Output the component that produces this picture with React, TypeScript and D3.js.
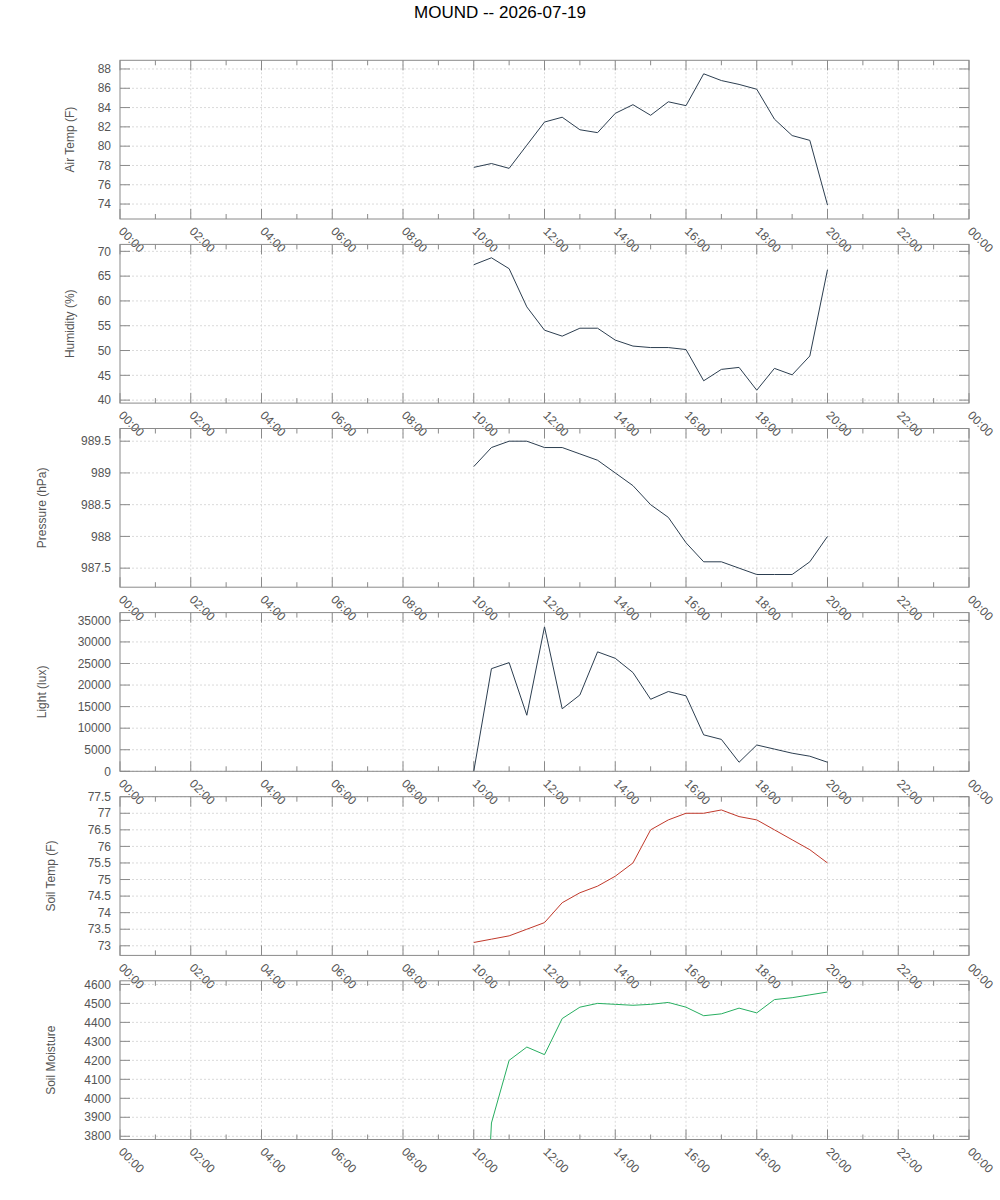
import React from "react";
import * as d3 from "d3";

const width = 1000;
const height = 1200;

const title = "MOUND -- 2026-07-19";

// sample times, every half hour
const times = [
  "10:00", "10:30", "11:00", "11:30", "12:00", "12:30", "13:00", "13:30",
  "14:00", "14:30", "15:00", "15:30", "16:00", "16:30", "17:00", "17:30",
  "18:00", "18:30", "19:00", "19:30", "20:00",
];

const airTemp = [77.8, 78.2, 77.7, 80.1, 82.5, 83.0, 81.7, 81.4, 83.4, 84.3, 83.2, 84.6, 84.2, 87.5, 86.8, 86.4, 85.9, 82.8, 81.1, 80.6, 73.9];
const humidity = [67.3, 68.7, 66.5, 58.8, 54.1, 52.9, 54.5, 54.5, 52.1, 50.9, 50.6, 50.6, 50.2, 43.9, 46.2, 46.6, 42.0, 46.4, 45.1, 48.9, 66.3];
const pressure = [989.1, 989.4, 989.5, 989.5, 989.4, 989.4, 989.3, 989.2, 989.0, 988.8, 988.5, 988.3, 987.9, 987.6, 987.6, 987.5, 987.4, 987.4, 987.4, 987.6, 988.0];
const light = [0, 23800, 25200, 13000, 33500, 14500, 17700, 27700, 26200, 22900, 16700, 18500, 17500, 8450, 7400, 2100, 6100, 5150, 4200, 3500, 2100];
const soilTemp = [73.1, 73.2, 73.3, 73.5, 73.7, 74.3, 74.6, 74.8, 75.1, 75.5, 76.5, 76.8, 77.0, 77.0, 77.1, 76.9, 76.8, 76.5, 76.2, 75.9, 75.5];
const soilMoisture = [2000, 3870, 4200, 4270, 4230, 4420, 4480, 4500, 4495, 4490, 4495, 4505, 4480, 4435, 4445, 4475, 4450, 4520, 4530, 4545, 4560];

const airTicks = [74, 76, 78, 80, 82, 84, 86, 88];
const humidityTicks = [40, 45, 50, 55, 60, 65, 70];
const pressureTicks = [987.5, 988, 988.5, 989, 989.5];
const lightTicks = [0, 5000, 10000, 15000, 20000, 25000, 30000, 35000];
const soilTempTicks = [73, 73.5, 74, 74.5, 75, 75.5, 76, 76.5, 77, 77.5];
const moistureTicks = [3800, 3900, 4000, 4100, 4200, 4300, 4400, 4500, 4600];

const hourLabels = ["00:00", "02:00", "04:00", "06:00", "08:00", "10:00", "12:00", "14:00", "16:00", "18:00", "20:00", "22:00", "00:00"];

const panels = [
  { label: "Air Temp (F)", values: airTemp, ticks: airTicks, domain: [72.45, 88.9], color: "#2c3e50", labelX: 70 },
  { label: "Humidity (%)", values: humidity, ticks: humidityTicks, domain: [39.4, 71.4], color: "#2c3e50", labelX: 70 },
  { label: "Pressure (hPa)", values: pressure, ticks: pressureTicks, domain: [987.2, 989.7], color: "#2c3e50", labelX: 42 },
  { label: "Light (lux)", values: light, ticks: lightTicks, domain: [0, 36800], color: "#2c3e50", labelX: 42 },
  { label: "Soil Temp (F)", values: soilTemp, ticks: soilTempTicks, domain: [72.71, 77.5], color: "#c0392b", labelX: 51 },
  { label: "Soil Moisture", values: soilMoisture, ticks: moistureTicks, domain: [3783, 4619], color: "#27ae60", labelX: 51 },
];

const left = 120;
const right = 969;
const firstTop = 60.3;
const step = 184.1;
const panelH = 158.7;

const font = "'Liberation Sans', Arial, sans-serif";
const borderColor = "#8a8a8a";
const textColor = "#555";
const gridColor = "#dadada";

const toHours = (t: string) => {
  const [h, m] = t.split(":").map(Number);
  return h + m / 60;
};

const x = d3.scaleLinear().domain([0, 24]).range([left, right]);
const majorHours = d3.range(0, 25, 2);
const minorHours = d3.range(1, 24, 2);

const fmt = (v: number) => String(v);

export default function App() {
  return (
    <svg
      width={width}
      height={height}
      style={{ position: "absolute", left: 0, top: 0, display: "block", background: "#fff" }}
      fontFamily={font}
    >
      <text x={width / 2} y={18} textAnchor="middle" fontSize={17} fill="#000">
        {title}
      </text>
      <defs>
        {panels.map((p, i) => {
          const top = firstTop + i * step;
          return (
            <clipPath id={`clip${i}`} key={i}>
              <rect x={left} y={top} width={right - left} height={panelH} />
            </clipPath>
          );
        })}
      </defs>
      {panels.map((p, i) => {
        const top = firstTop + i * step;
        const bottom = top + panelH;
        const y = d3.scaleLinear().domain(p.domain).range([bottom, top]);
        const path = d3
          .line<number>()
          .x((_, j) => x(toHours(times[j])))
          .y((d) => y(d))(p.values) || "";
        return (
          <g key={p.label}>
            {/* grid */}
            {majorHours.slice(1, -1).map((h) => (
              <line key={"gx" + h} x1={x(h)} x2={x(h)} y1={top} y2={bottom} stroke={gridColor} strokeWidth={1} strokeDasharray="2,2" />
            ))}
            {p.ticks.map((t) => (
              <line key={"gy" + t} x1={left} x2={right} y1={y(t)} y2={y(t)} stroke={gridColor} strokeWidth={1} strokeDasharray="2,2" />
            ))}
            {/* x ticks top and bottom */}
            {majorHours.map((h) => (
              <g key={"mx" + h}>
                <line x1={x(h)} x2={x(h)} y1={bottom} y2={bottom - 10} stroke={borderColor} />
                <line x1={x(h)} x2={x(h)} y1={top} y2={top + 10} stroke={borderColor} />
              </g>
            ))}
            {minorHours.map((h) => (
              <g key={"nx" + h}>
                <line x1={x(h)} x2={x(h)} y1={bottom} y2={bottom - 5} stroke={borderColor} />
                <line x1={x(h)} x2={x(h)} y1={top} y2={top + 5} stroke={borderColor} />
              </g>
            ))}
            {/* y ticks left and right */}
            {p.ticks.map((t) => (
              <g key={"ty" + t}>
                <line x1={left} x2={left + 10} y1={y(t)} y2={y(t)} stroke={borderColor} />
                <line x1={right} x2={right - 10} y1={y(t)} y2={y(t)} stroke={borderColor} />
                <text x={111} y={y(t)} dy="0.35em" textAnchor="end" fontSize={12} fill={textColor}>
                  {fmt(t)}
                </text>
              </g>
            ))}
            {/* data line */}
            <path d={path} fill="none" stroke={p.color} strokeWidth={1} clipPath={`url(#clip${i})`} />
            {/* border */}
            <rect x={left} y={top} width={right - left} height={panelH} fill="none" stroke={borderColor} strokeWidth={1} />
            {/* x tick labels */}
            {majorHours.map((h, k) => (
              <text
                key={"lx" + h}
                transform={`translate(${x(h) - 2},${bottom + 13}) rotate(45)`}
                fontSize={12}
                fill={textColor}
              >
                {hourLabels[k]}
              </text>
            ))}
            {/* y axis title */}
            <text
              transform={`translate(${p.labelX},${(top + bottom) / 2}) rotate(-90)`}
              textAnchor="middle"
              dy="0.35em"
              fontSize={12}
              fill={textColor}
            >
              {p.label}
            </text>
          </g>
        );
      })}
    </svg>
  );
}
